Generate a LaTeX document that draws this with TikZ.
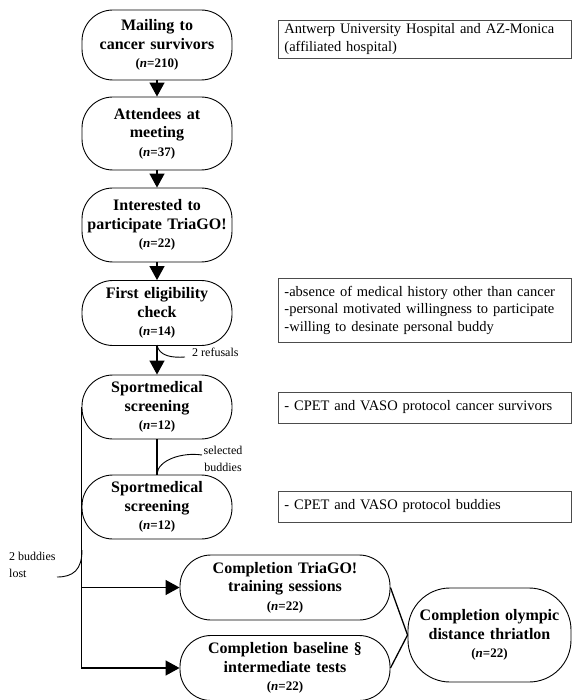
\documentclass[tikz,border=0pt]{standalone}
\usepackage{fontspec}
\setmainfont{Liberation Serif}
\usetikzlibrary{arrows.meta}
\begin{document}
\begin{tikzpicture}[x=1pt,y=-1pt,
  oval/.style={draw,line width=0.9pt,rectangle,rounded corners=31pt,minimum width=150pt,
    inner sep=0pt,align=center,text width=148pt,font=\fontsize{16}{18.5}\selectfont\bfseries},
  infobox/.style={draw=black!70,line width=0.9pt,rectangle,anchor=west,minimum width=293pt,
    inner xsep=6pt,inner ysep=0pt,text width=281pt,align=left,font=\fontsize{14.5}{17.5}\selectfont},
  lbl/.style={font=\fontsize{12}{16.5}\selectfont,inner sep=0pt},
  conn/.style={line width=1.3pt},
  arr/.style={line width=1.3pt,-{Triangle[width=15pt,length=14pt]}},
  thin/.style={line width=0.9pt}
]
\newcommand{\nn}[1]{{\fontsize{13}{15}\selectfont\bfseries(\textit{n}=#1)}}
\useasboundingbox (0,0) rectangle (572,700);

\node[oval,minimum height=70pt] (m1) at (157,45) {Mailing to\\cancer survivors\\\nn{210}};
\node[oval,minimum height=73pt] (m2) at (157,133.5) {Attendees at\\meeting\\\nn{37}};
\node[oval,minimum height=74pt] (m3) at (157,225) {Interested to\\participate TriaGO!\\\nn{22}};
\node[oval,minimum height=65pt] (m4) at (157,313) {First eligibility\\check\\\nn{14}};
\node[oval,minimum height=64pt] (m5) at (157,407) {Sportmedical\\screening\\\nn{12}};
\node[oval,minimum height=64pt] (m6) at (157,507) {Sportmedical\\screening\\\nn{12}};
\node[oval,minimum height=65pt,minimum width=210pt,text width=205pt] (m7) at (285,587.5) {Completion TriaGO!\\training sessions\\\nn{22}};
\node[oval,minimum height=65pt,minimum width=210pt,text width=205pt] (m8) at (285,668) {Completion baseline §\\intermediate tests\\\nn{22}};
\node[oval,minimum height=94pt,minimum width=163pt,text width=160pt,rounded corners=42pt] (m9) at (489.5,635) {Completion olympic\\distance thriatlon\\\nn{22}};

\node[infobox,minimum height=38pt] (b1) at (278,39) {Antwerp University Hospital and AZ-Monica\\(affiliated hospital)};
\node[infobox,minimum height=64pt] (b2) at (278,310) {-absence of medical history other than cancer\\-personal motivated willingness to participate\\-willing to desinate personal buddy};
\node[infobox,minimum height=31pt] (b3) at (278,407.5) {- CPET and VASO protocol cancer survivors};
\node[infobox,minimum height=31pt] (b4) at (278,506.5) {- CPET and VASO protocol buddies};

\draw[arr] (m1) -- (m2);
\draw[arr] (m2) -- (m3);
\draw[arr] (m3) -- (m4);
\draw[arr] (m4) -- (m5);
\draw[conn] (m5) -- (m6);
\draw[arr] (m5.west) |- (m8.west);
\draw[arr] (m5.west |- m7.west) -- (m7.west);
\draw[conn] (m7.east) -- (m9.west);
\draw[conn] (m8.east) -- (m9.west);

\coordinate (c1) at (157,345);
\coordinate (c1e) at (185,357);
\draw[thin] (c1) .. controls (159,356) and (172,358) .. (c1e);
\node[lbl,anchor=west] (l1) at (192,352) {2 refusals};

\coordinate (c2) at (157,474);
\coordinate (c2e) at (202,455);
\draw[thin] (c2) .. controls (158,460) and (182,452) .. (c2e);
\node[lbl,align=center] (l2) at (223,459) {selected\\buddies};

\coordinate (c3) at (82,550);
\coordinate (c3e) at (57,577);
\draw[thin] (c3) .. controls (82,570) and (73,577) .. (c3e);
\node[lbl,align=left,anchor=north west] (l3) at (9,552) {2 buddies\\lost};
\end{tikzpicture}
\end{document}
